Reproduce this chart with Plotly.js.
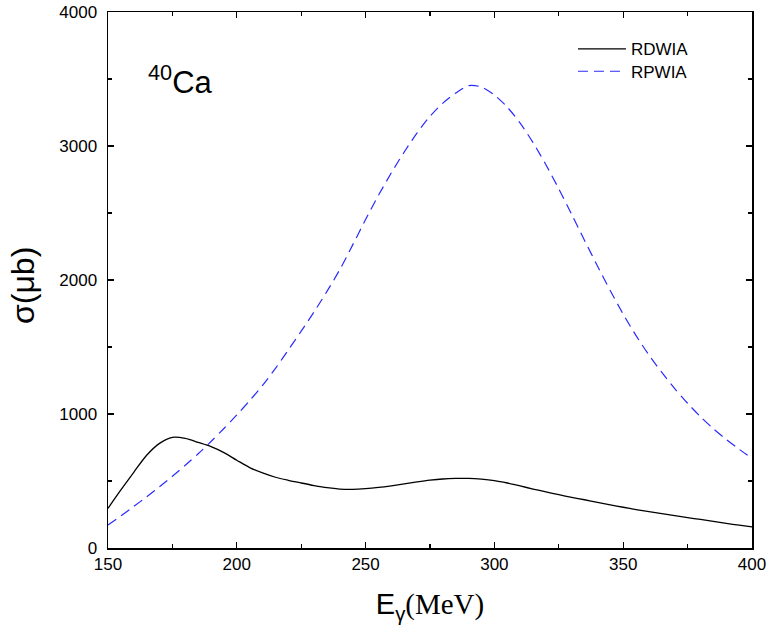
<!DOCTYPE html>
<html>
<head>
<meta charset="utf-8">
<script src="https://cdn.plot.ly/plotly-3.0.1.min.js"></script>
<style>html,body{margin:0;padding:0;background:#fff;}#chart{width:770px;height:636px;}</style>
</head>
<body>
<div id="chart"></div>
<script>
// Photon energy (MeV)
const energy = [150,155,160,165,170,175,180,185,190,195,200,205,210,215,220,225,230,235,240,245,250,255,260,265,270,275,280,285,290,295,300,305,310,315,320,325,330,335,340,345,350,355,360,365,370,375,380,385,390,395,400];
// RDWIA cross section (μb)
const rdwia = [296,433,565,692,781,826,818,788,756,712,655,600,560,528,505,485,466,450,440,438,443,452,464,478,493,506,515,519,520,514,503,485,463,440,419,398,378,360,341,322,304,287,271,256,241,227,213,199,184,170,157];
// RPWIA cross section (μb)
const rpwia = [172,240,310,382,457,535,617,703,795,892,993,1100,1214,1340,1478,1618,1762,1915,2078,2262,2452,2632,2800,2955,3098,3222,3320,3395,3450,3440,3380,3290,3170,3025,2860,2680,2490,2295,2105,1920,1745,1585,1440,1310,1190,1080,980,890,810,737,669];

const seriesNames = ['RDWIA','RPWIA'];
const xTicks = [150,200,250,300,350,400];
const yTicks = [0,1000,2000,3000,4000];

const traces = [
  {x: energy, y: rdwia, name: seriesNames[0], type: 'scatter', mode: 'lines', legend: 'legend',
   line: {color: '#000000', width: 1.3, shape: 'spline', smoothing: 0.8}},
  {x: energy, y: rpwia, name: seriesNames[1], type: 'scatter', mode: 'lines', legend: 'legend2',
   line: {color: '#2a2aff', width: 1.2, dash: '10px,6px', shape: 'spline', smoothing: 0.8}}
];

const sans = 'Liberation Sans, Arial, sans-serif';
const tickFont = {family: sans, size: 17, color: '#000'};
const legFont = {family: sans, size: 17, color: '#000'};

const layout = {
  width: 770, height: 636,
  margin: {l: 108, r: 18, t: 12, b: 88},
  paper_bgcolor: '#fff', plot_bgcolor: '#fff',
  showlegend: true,
  legend: {x: 0.722, y: 0.9304, xanchor: 'left', yanchor: 'middle', font: legFont,
           bgcolor: 'rgba(0,0,0,0)', borderwidth: 0, itemwidth: 48},
  legend2: {x: 0.722, y: 0.8886, xanchor: 'left', yanchor: 'middle', font: legFont,
           bgcolor: 'rgba(0,0,0,0)', borderwidth: 0, itemwidth: 48},
  xaxis: {
    range: [150, 400], tickvals: xTicks, ticktext: xTicks.map(String),
    ticks: 'inside', ticklen: 6, tickwidth: 1.2, tickcolor: '#000',
    minor: {dtick: 25, tick0: 150, ticks: 'inside', ticklen: 4, tickwidth: 1.2, tickcolor: '#000'},
    showline: true, linecolor: '#000', linewidth: 1.5, mirror: 'ticks',
    showgrid: false, zeroline: false, tickfont: tickFont,
    title: {text: 'E<sub>γ</sub><span style="font-family:Liberation Serif, Times New Roman, serif">(MeV)</span>',
            font: {family: sans, size: 29, color: '#000'}, standoff: 21}
  },
  yaxis: {
    range: [0, 4000], tickvals: yTicks, ticktext: yTicks.map(String),
    ticks: 'inside', ticklen: 6, tickwidth: 1.2, tickcolor: '#000',
    minor: {dtick: 500, tick0: 0, ticks: 'inside', ticklen: 4, tickwidth: 1.2, tickcolor: '#000'},
    showline: true, linecolor: '#000', linewidth: 1.5, mirror: 'ticks',
    showgrid: false, zeroline: false, tickfont: tickFont, ticklabelstandoff: 6,
    title: {text: ''}
  },
  annotations: [
    {text: 'σ(μb)', xref: 'paper', yref: 'paper', x: -0.131, y: 0.49, xanchor: 'center', yanchor: 'middle',
     textangle: -90, showarrow: false,
     font: {family: sans, size: 32, color: '#000'}},
    {text: '<sup>40</sup>Ca', xref: 'paper', yref: 'paper', x: 0.1126, y: 0.873, xanchor: 'center', yanchor: 'middle',
     showarrow: false,
     font: {family: sans, size: 31, color: '#000'}}
  ]
};

Plotly.newPlot('chart', traces, layout, {displayModeBar: false, staticPlot: true});
</script>
</body>
</html>
